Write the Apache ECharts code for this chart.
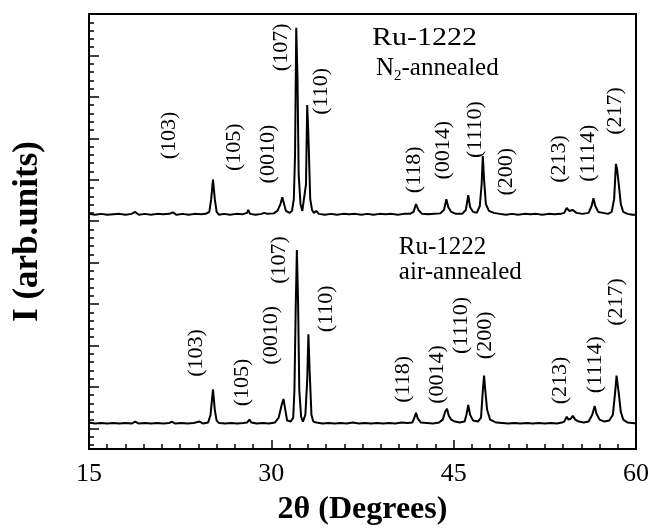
<!DOCTYPE html>
<html>
<head>
<meta charset="utf-8">
<script src="https://cdn.jsdelivr.net/npm/echarts@6/dist/echarts.min.js"></script>
<style>
  html, body { margin: 0; padding: 0; background: #fff; }
  #main { width: 652px; height: 531px; }
</style>
</head>
<body>
<div id="main"></div>
<script>
// x axis ticks
const xTicks = [15, 30, 45, 60]

// N2-annealed trace, [2theta, intensity] (stacked above the air trace)
const n2Data = [
  [15.0,240],[15.5,239],[16.0,240],[16.5,239],[17.0,239.5],[17.5,240],[18.0,239],[18.5,240],[18.8,242],[19.1,239],
  [19.6,240],[20.1,239],[20.6,240],[21.1,239.5],[21.6,240],[21.9,241.5],[22.2,239],[22.7,240],[23.2,239],[23.7,240],
  [24.2,239.5],[24.6,240],[24.9,242],[25.05,255],[25.2,275],[25.35,255],[25.5,242],[25.7,239],[26.1,240],[26.6,239],
  [27.1,240],[27.6,239.5],[28.0,241],[28.1,244],[28.25,240],[28.7,239],[29.2,240],[29.4,241],[29.7,240],[30.2,240.5],
  [30.5,243],[30.75,250],[30.9,257],[31.05,250],[31.2,243],[31.35,244],[31.5,241],[31.7,243],[31.85,255],[31.95,300],
  [32.05,430],[32.15,380],[32.25,280],[32.4,250],[32.55,243],[32.7,245],[32.85,270],[32.95,351],[33.05,320],[33.2,255],
  [33.35,244],[33.5,241],[33.7,243],[33.9,240],[34.4,239],[34.9,240],[35.4,239],[35.9,240],[36.4,239.5],[36.9,240],
  [37.4,239],[37.9,240],[38.4,239],[38.9,240],[39.4,239.5],[39.9,240],[40.4,239],[40.9,240],[41.4,240],[41.7,242],
  [41.9,250],[42.1,244],[42.4,240],[42.9,239.5],[43.4,240],[43.9,240.5],[44.2,244],[44.4,255],[44.55,247],[44.8,242],
  [45.2,240],[45.7,240],[46.0,244],[46.2,259],[46.35,247],[46.6,242],[46.9,241],[47.15,248],[47.3,270],[47.4,299],
  [47.5,275],[47.65,250],[47.9,243],[48.3,241],[48.8,240],[49.3,239],[49.8,240],[50.3,239],[50.8,240],[51.3,239.5],
  [51.8,240],[52.3,239],[52.8,240],[53.3,239.5],[53.8,240],[54.1,241],[54.3,246],[54.5,243],[54.8,244],[55.1,241],
  [55.6,240],[56.1,241],[56.35,248],[56.5,256],[56.65,248],[56.9,242],[57.3,241],[57.7,240],[58.0,242],[58.2,255],
  [58.35,291],[58.45,285],[58.6,268],[58.75,250],[58.95,242],[59.3,240],[59.7,239],[60.0,239]
]

// air-annealed trace
const airData = [
  [15.0,27],[15.5,26],[16.0,26.5],[16.5,26],[17.0,26.5],[17.5,26],[18.0,26.5],[18.5,26],[18.8,28],[19.1,26],
  [19.6,26.5],[20.1,26],[20.6,26.5],[21.1,26],[21.6,26.5],[21.8,28],[22.1,26],[22.6,26.5],[23.1,26],[23.6,26.5],
  [24.1,28],[24.4,26],[24.8,27],[25.0,35],[25.2,61],[25.35,40],[25.5,29],[25.7,26.5],[26.2,26],[26.7,26.5],
  [27.2,26],[27.7,26.5],[28.0,27],[28.2,30],[28.35,27],[28.8,26],[29.3,26.5],[29.8,26],[30.3,27],[30.6,32],
  [30.85,45],[31.0,51],[31.15,40],[31.3,29],[31.45,31],[31.6,28],[31.8,32],[31.9,60],[32.0,140],[32.1,203],
  [32.2,150],[32.3,60],[32.45,33],[32.6,28],[32.8,35],[32.95,70],[33.05,117],[33.15,80],[33.3,35],[33.45,28],
  [33.7,27],[34.2,26],[34.7,26.5],[35.2,26],[35.7,26.5],[36.2,26],[36.7,27],[37.2,26],[37.7,26.5],[38.2,26],
  [38.7,26.5],[39.2,26],[39.7,26.5],[40.2,26],[40.7,27],[41.2,26.5],[41.6,27],[41.8,33],[41.9,37],[42.05,31],
  [42.3,27],[42.8,26.5],[43.3,26],[43.8,27],[44.1,30],[44.3,38],[44.45,41],[44.6,34],[44.8,30],[45.1,28],
  [45.5,27],[45.9,28],[46.05,35],[46.2,45],[46.35,35],[46.6,29],[47.0,28],[47.25,32],[47.4,60],[47.5,75],
  [47.6,60],[47.75,40],[48.0,30],[48.5,27],[49.0,26.5],[49.5,26],[50.0,26.5],[50.5,26],[51.0,26.5],[51.5,26],
  [52.0,26.5],[52.5,26],[53.0,26.5],[53.5,26],[53.9,27],[54.1,28],[54.3,33],[54.45,30],[54.65,31],[54.8,34],
  [55.0,30],[55.3,28],[55.7,27],[56.1,28],[56.4,35],[56.6,44],[56.75,36],[57.0,30],[57.4,28],[57.8,29],
  [58.1,35],[58.3,60],[58.4,75],[58.5,65],[58.6,55],[58.75,38],[58.95,30],[59.3,27],[59.7,26.5],[60.0,26]
]

// peak labels: [text, 2theta, intensity] where the label centre sits
const n2Labels = [
  ['(103)',21.64,320],['(105)',26.97,308],['(0010)',29.75,301],['(107)',30.82,410],['(110)',34.10,365],
  ['(118)',41.72,285],['(0014)',44.10,305],['(1110)',46.80,326],['(200)',49.34,283],['(213)',53.69,296],
  ['(1114)',56.07,302],['(217)',58.28,345]
]
const airLabels = [
  ['(103)',23.85,98],['(105)',27.62,68],['(0010)',30.0,116],['(107)',30.66,193],['(110)',34.51,143],
  ['(118)',40.82,71],['(0014)',43.61,76],['(1110)',45.66,126],['(200)',47.62,116],['(213)',53.77,70],
  ['(1114)',56.64,86],['(217)',58.36,150]
]

const serif = '"Liberation Serif", "Times New Roman", serif'

let myChart = echarts.init(document.getElementById('main'))
let option = {
  animation: false,
  grid: {
    left: 89, right: 14, top: 14, bottom: 73,
    show: true, borderColor: '#000', borderWidth: 2
  },
  xAxis: {
    type: 'value',
    min: xTicks[0], max: xTicks[xTicks.length - 1], interval: 15,
    name: '2θ (Degrees)',
    nameLocation: 'middle',
    nameGap: 45,
    nameTextStyle: { fontFamily: serif, fontWeight: 'bold', fontSize: 32, color: '#000' },
    axisLine: { lineStyle: { color: '#000', width: 2 } },
    axisTick: { inside: true, length: 9, lineStyle: { color: '#000', width: 1.5 } },
    minorTick: { show: true, splitNumber: 10, length: 5, lineStyle: { color: '#000', width: 1.5 } },
    axisLabel: { fontFamily: serif, fontSize: 26, color: '#000', margin: 12 },
    splitLine: { show: false }
  },
  yAxis: [
    {
      type: 'value', min: 0, max: 444,
      name: 'I (arb.units)',
      nameLocation: 'middle',
      nameGap: 44,
      nameTextStyle: { fontFamily: serif, fontWeight: 'bold', fontSize: 35, color: '#000' },
      axisLine: { show: true, lineStyle: { color: '#000', width: 2 } },
      axisTick: { show: false },
      axisLabel: { show: false },
      splitLine: { show: false }
    },
    {
      // tick-only axis, counted from the top edge
      type: 'value', min: 0, max: 10.5, interval: 1, inverse: true,
      position: 'left',
      axisLine: { show: false },
      axisTick: { inside: true, length: 10, lineStyle: { color: '#000', width: 1.5 } },
      minorTick: { show: true, splitNumber: 5, length: 5, lineStyle: { color: '#000', width: 1.5 } },
      axisLabel: { show: false },
      splitLine: { show: false }
    }
  ],
  series: [
    {
      name: 'N2-annealed', type: 'line', data: n2Data, yAxisIndex: 0,
      showSymbol: false, symbol: 'none',
      lineStyle: { color: '#000', width: 2 }
    },
    {
      name: 'air-annealed', type: 'line', data: airData, yAxisIndex: 0,
      showSymbol: false, symbol: 'none',
      lineStyle: { color: '#000', width: 2 }
    }
  ]
}
myChart.setOption(option)

// text annotations placed from data coordinates
function px(p) {
  return myChart.convertToPixel({ xAxisIndex: 0, yAxisIndex: 0 }, p)
}
let elements = []
n2Labels.concat(airLabels).forEach((item) => {
  let p = px([item[1], item[2]])
  elements.push({
    type: 'text', x: p[0], y: p[1], rotation: Math.PI / 2,
    style: { text: item[0], fontFamily: serif, fontSize: 22, fill: '#000', align: 'center', verticalAlign: 'middle' }
  })
})
let t1 = px([38.28, 419])
elements.push({
  type: 'text', x: t1[0], y: t1[1], scaleX: 1.2,
  style: { text: 'Ru-1222', fontFamily: serif, fontSize: 25, fill: '#000', align: 'left', verticalAlign: 'middle' }
})
let t2 = px([38.61, 388])
elements.push({
  type: 'text', x: t2[0], y: t2[1],
  style: {
    text: '{a|N}{s|2}{a|-annealed}', fill: '#000', align: 'left', verticalAlign: 'middle',
    rich: {
      a: { fontFamily: serif, fontSize: 25, fill: '#000' },
      s: { fontFamily: serif, fontSize: 15, fill: '#000', padding: [14, 0, 0, 0] }
    }
  }
})
let t3 = px([40.49, 206])
elements.push({
  type: 'text', x: t3[0], y: t3[1],
  style: { text: 'Ru-1222', fontFamily: serif, fontSize: 25, fill: '#000', align: 'left', verticalAlign: 'middle' }
})
let t4 = px([40.49, 180])
elements.push({
  type: 'text', x: t4[0], y: t4[1],
  style: { text: 'air-annealed', fontFamily: serif, fontSize: 25, fill: '#000', align: 'left', verticalAlign: 'middle' }
})
myChart.setOption({ graphic: { elements: elements } })
</script>
</body>
</html>
